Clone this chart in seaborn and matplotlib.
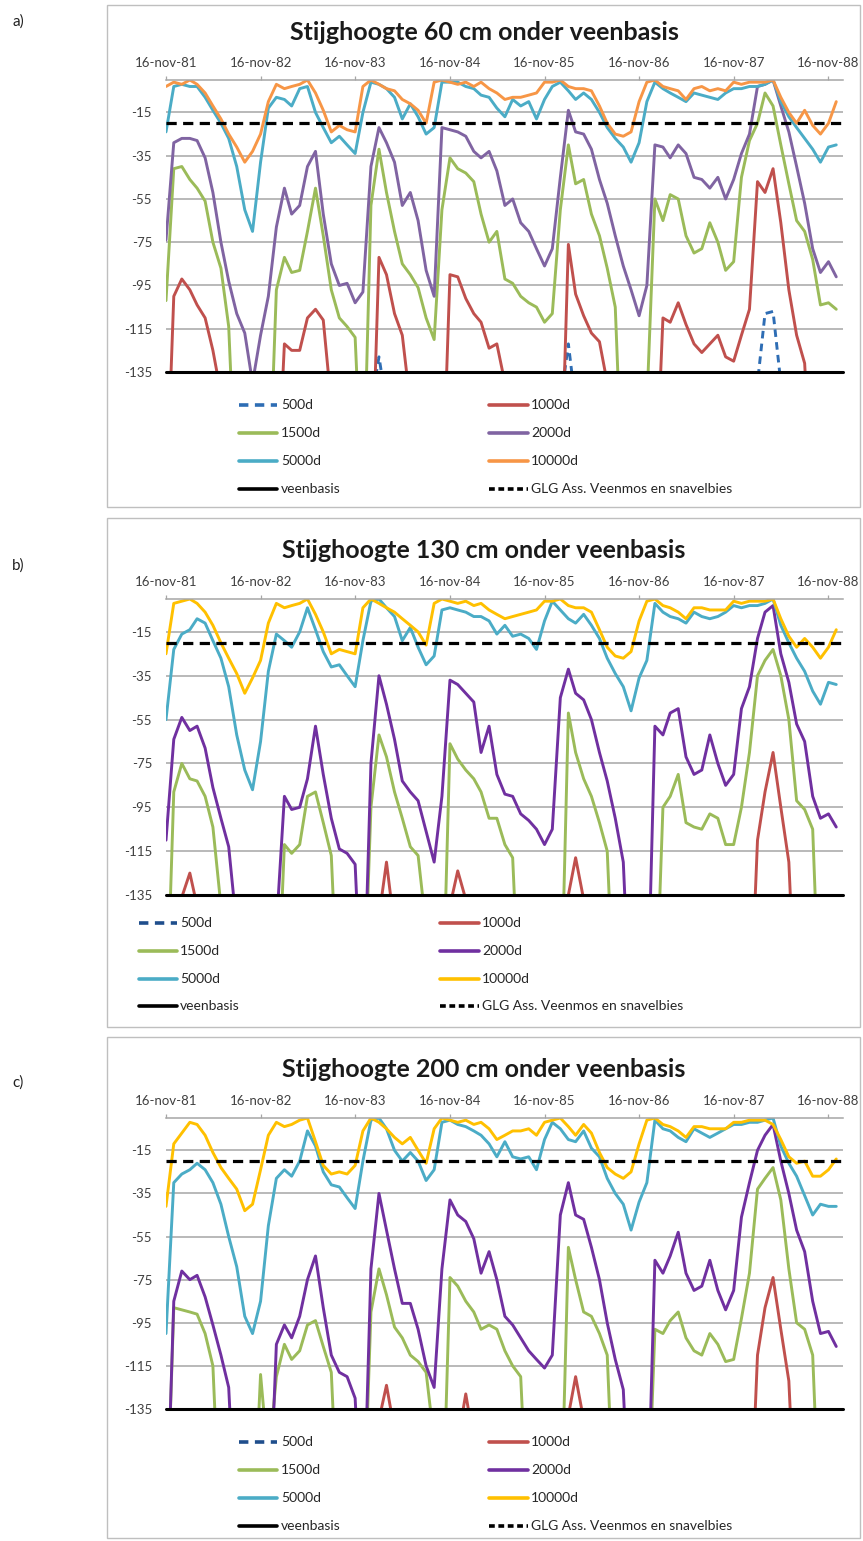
import matplotlib
matplotlib.use("Agg")
import matplotlib.pyplot as plt
import matplotlib.dates as mdates
from matplotlib.lines import Line2D
from matplotlib.patches import Rectangle
import pandas as pd
import seaborn as sns

sns.set_theme(style="white")
plt.rcParams["font.family"] = ["Lato", "DejaVu Sans"]

# ---------------------------------------------------------------- data
# monthly head readings (cm relative to surface), 16-nov-81 .. 16-dec-88
MONTHS = pd.date_range("1981-11-01", periods=86, freq="MS") + pd.Timedelta(days=15)

TICK_DATES = ["1981-11-16", "1982-11-16", "1983-11-16", "1984-11-16",
              "1985-11-16", "1986-11-16", "1987-11-16", "1988-11-16"]
TICK_LABELS = ["16-nov-81", "16-nov-82", "16-nov-83", "16-nov-84",
               "16-nov-85", "16-nov-86", "16-nov-87", "16-nov-88"]
Y_TICKS = [-135, -115, -95, -75, -55, -35, -15]
VEENBASIS = -135
GLG = -20

TITLES = ["Stijghoogte 60 cm onder veenbasis",
          "Stijghoogte 130 cm onder veenbasis",
          "Stijghoogte 200 cm onder veenbasis"]
PANEL_TAGS = ["a)", "b)", "c)"]

# --- a) 60 cm
A_500 = [-200, -200, -200, -200, -200, -200, -200, -200, -200, -200, -200, -200,
         -200, -200, -200, -200, -200, -200, -200, -200, -200, -200, -200, -200,
         -200, -200, -150, -128, -150, -200, -200, -200, -200, -200, -200, -200,
         -200, -200, -200, -200, -200, -200, -200, -200, -200, -200, -200, -200,
         -200, -200, -150, -122, -150, -200, -200, -200, -200, -200, -200, -200,
         -200, -200, -200, -200, -200, -200, -200, -200, -200, -200, -200, -200,
         -200, -200, -200, -140, -108, -107, -140, -200, -200, -200, -200, -200,
         -200, -200]
A_1000 = [-200, -100, -92, -97, -104, -110, -125, -145, -200, -200, -200, -200,
          -200, -200, -200, -122, -125, -125, -110, -106, -111, -150, -200, -200,
          -200, -200, -200, -82, -90, -108, -118, -150, -200, -200, -200, -200,
          -90, -91, -101, -108, -112, -124, -122, -140, -200, -200, -200, -200,
          -200, -200, -200, -76, -99, -109, -117, -121, -140, -200, -200, -200,
          -200, -200, -200, -110, -112, -103, -113, -122, -126, -122, -118, -128,
          -130, -118, -106, -47, -52, -41, -66, -97, -118, -131, -200, -200,
          -200, -200]
A_1500 = [-102, -41, -40, -46, -50, -56, -75, -87, -114, -200, -200, -200,
          -200, -200, -97, -82, -89, -88, -70, -50, -72, -97, -110, -114,
          -119, -200, -58, -32, -52, -70, -85, -90, -96, -110, -120, -60,
          -36, -41, -43, -47, -62, -75, -70, -92, -94, -100, -103, -105,
          -112, -108, -60, -30, -48, -46, -62, -72, -87, -105, -200, -200,
          -200, -150, -55, -65, -53, -55, -72, -80, -78, -66, -75, -88,
          -84, -45, -28, -20, -6, -12, -30, -48, -65, -70, -83, -104,
          -103, -106]
A_2000 = [-74, -29, -27, -27, -28, -36, -52, -75, -93, -108, -117, -140,
          -118, -100, -68, -50, -62, -58, -40, -33, -62, -85, -95, -94,
          -103, -98, -40, -22, -29, -38, -58, -52, -65, -88, -100, -22,
          -23, -24, -26, -33, -36, -33, -42, -58, -55, -66, -70, -78,
          -86, -78, -45, -14, -24, -25, -32, -46, -57, -72, -86, -97,
          -109, -95, -30, -31, -36, -30, -34, -45, -46, -50, -45, -55,
          -46, -34, -25, -3, -2, 0, -12, -24, -40, -57, -78, -89,
          -84, -91]
A_5000 = [-24, -3, -2, -3, -3, -8, -14, -20, -27, -40, -60, -70,
          -38, -13, -8, -9, -12, -4, -3, -15, -22, -29, -26, -30,
          -34, -15, -1, -2, -4, -8, -18, -11, -17, -25, -22, -1,
          -1, -1, -3, -4, -7, -8, -13, -17, -9, -12, -10, -18,
          -9, -3, -1, -5, -9, -6, -9, -15, -22, -27, -31, -38,
          -29, -10, -1, -4, -6, -8, -10, -6, -7, -8, -9, -6,
          -4, -4, -3, -3, -2, 0, -10, -17, -22, -27, -32, -38,
          -31, -30]
A_10000 = [-3, -1, -2, 0, -2, -6, -12, -18, -25, -31, -38, -33,
           -25, -10, -2, -4, -3, -2, 0, -6, -14, -24, -21, -23,
           -24, -3, 0, -2, -4, -5, -9, -11, -14, -20, -1, 0,
           -1, -2, -1, -3, -1, -4, -6, -9, -8, -8, -7, -6,
           -1, -1, 0, -3, -4, -4, -5, -12, -20, -25, -26, -24,
           -10, -1, 0, -3, -4, -5, -9, -4, -3, -5, -4, -5,
           -1, -2, -1, -1, -1, 0, -8, -15, -20, -14, -21, -25,
           -20, -10]

# --- b) 130 cm
B_1000 = [-200, -200, -136, -125, -140, -200, -200, -200, -200, -200, -200, -200,
          -200, -200, -200, -200, -200, -200, -200, -200, -200, -200, -200, -200,
          -200, -200, -200, -145, -120, -150, -200, -200, -200, -200, -200, -200,
          -140, -124, -137, -200, -200, -200, -200, -200, -200, -200, -200, -200,
          -200, -200, -200, -135, -118, -137, -200, -200, -200, -200, -200, -200,
          -200, -200, -200, -200, -200, -200, -200, -200, -200, -200, -200, -200,
          -200, -200, -200, -110, -88, -70, -95, -120, -200, -200, -200, -200,
          -200, -200]
B_1500 = [-200, -88, -75, -82, -83, -90, -104, -140, -200, -200, -200, -200,
          -200, -200, -200, -112, -116, -112, -90, -88, -102, -117, -200, -200,
          -200, -200, -95, -62, -72, -88, -100, -113, -117, -150, -200, -200,
          -66, -73, -78, -82, -88, -100, -100, -112, -118, -200, -200, -200,
          -200, -200, -200, -52, -70, -82, -90, -102, -115, -200, -200, -200,
          -200, -200, -200, -95, -90, -80, -102, -104, -105, -98, -100, -112,
          -112, -95, -70, -35, -28, -23, -35, -55, -92, -96, -105, -200,
          -200, -200]
B_2000 = [-110, -64, -54, -60, -58, -68, -86, -100, -113, -150, -200, -200,
          -200, -200, -150, -90, -96, -95, -82, -58, -80, -100, -114, -116,
          -121, -200, -75, -35, -48, -64, -83, -88, -92, -106, -120, -90,
          -37, -39, -43, -47, -70, -58, -80, -89, -90, -98, -101, -105,
          -112, -105, -45, -32, -43, -46, -55, -70, -83, -100, -120, -200,
          -200, -200, -58, -62, -52, -50, -72, -80, -78, -62, -75, -85,
          -80, -50, -40, -18, -6, -3, -25, -38, -57, -65, -90, -100,
          -98, -104]
B_5000 = [-55, -23, -16, -14, -9, -11, -19, -27, -40, -62, -78, -87,
          -65, -33, -16, -19, -22, -15, -4, -14, -24, -31, -30, -35,
          -40, -19, -1, 0, -4, -8, -19, -13, -22, -30, -26, -5,
          -4, -5, -6, -8, -8, -10, -16, -12, -17, -16, -18, -23,
          -10, -1, -5, -9, -11, -7, -12, -18, -27, -34, -40, -51,
          -36, -28, -2, -6, -8, -9, -11, -6, -8, -9, -8, -6,
          -3, -4, -3, -3, -2, 0, -12, -20, -27, -33, -42, -48,
          -38, -39]
B_10000 = [-25, -2, -1, 0, -2, -6, -12, -20, -27, -34, -43, -36,
           -28, -11, -2, -4, -3, -2, 0, -7, -15, -25, -23, -24,
           -25, -4, 0, -2, -4, -6, -9, -12, -15, -21, -2, 0,
           -1, -2, -1, -3, -2, -5, -7, -9, -8, -7, -6, -5,
           -1, -1, 0, -3, -4, -4, -6, -14, -22, -26, -27, -24,
           -10, -1, 0, -3, -4, -6, -9, -4, -4, -5, -5, -5,
           -1, -2, -1, -1, -1, 0, -9, -17, -22, -18, -22, -27,
           -22, -14]

# --- c) 200 cm
C_1000 = [-200, -200, -200, -200, -200, -200, -200, -200, -200, -200, -200, -200,
          -200, -200, -200, -200, -200, -200, -200, -200, -200, -200, -200, -200,
          -200, -200, -200, -140, -124, -145, -200, -200, -200, -200, -200, -200,
          -200, -150, -128, -150, -200, -200, -200, -200, -200, -200, -200, -200,
          -200, -200, -200, -138, -120, -140, -200, -200, -200, -200, -200, -200,
          -200, -200, -200, -200, -200, -200, -200, -200, -200, -200, -200, -200,
          -200, -200, -200, -110, -88, -74, -98, -122, -200, -200, -200, -200,
          -200, -200]
C_1500 = [-200, -88, -89, -90, -91, -100, -115, -200, -200, -200, -200, -200,
          -119, -160, -120, -105, -112, -108, -96, -94, -106, -118, -200, -200,
          -200, -200, -90, -70, -82, -97, -102, -110, -113, -118, -150, -200,
          -74, -78, -85, -90, -98, -96, -98, -108, -115, -120, -200, -200,
          -200, -200, -200, -60, -75, -90, -92, -100, -110, -200, -200, -200,
          -200, -200, -98, -100, -94, -90, -102, -108, -110, -100, -105, -113,
          -112, -93, -72, -33, -28, -23, -38, -70, -95, -98, -110, -200,
          -200, -200]
C_2000 = [-200, -85, -71, -75, -73, -83, -96, -110, -125, -200, -200, -200,
          -200, -200, -105, -96, -102, -92, -75, -64, -88, -110, -118, -120,
          -130, -200, -70, -35, -52, -70, -86, -86, -98, -115, -125, -70,
          -38, -45, -48, -56, -72, -62, -75, -92, -96, -102, -108, -112,
          -116, -110, -45, -30, -45, -47, -60, -75, -95, -112, -126, -200,
          -200, -200, -66, -72, -64, -53, -72, -80, -78, -66, -80, -89,
          -80, -46, -30, -15, -8, -3, -20, -35, -52, -62, -85, -100,
          -99, -106]
C_5000 = [-100, -30, -26, -24, -21, -24, -30, -40, -55, -69, -92, -100,
          -85, -50, -28, -24, -27, -20, -6, -13, -25, -31, -32, -37,
          -42, -20, -1, 0, -5, -15, -20, -16, -20, -29, -24, -2,
          -1, -3, -4, -6, -8, -12, -18, -11, -18, -19, -18, -24,
          -10, -2, -5, -10, -11, -6, -14, -18, -28, -35, -40, -52,
          -39, -30, -1, -5, -6, -9, -11, -5, -7, -9, -7, -5,
          -3, -3, -2, -2, -1, 0, -13, -21, -27, -36, -45, -40,
          -41, -41]
C_10000 = [-41, -12, -7, -2, -3, -8, -16, -23, -28, -33, -43, -40,
           -24, -8, -2, -4, -3, -1, 0, -11, -22, -26, -25, -26,
           -22, -6, 0, -2, -5, -9, -12, -9, -15, -21, -5, 0,
           -1, -2, -1, -3, -2, -5, -10, -8, -6, -6, -5, -8,
           -2, -1, 0, -4, -8, -3, -7, -16, -23, -26, -28, -25,
           -12, -1, 0, -3, -4, -6, -9, -4, -4, -5, -5, -5,
           -2, -2, -1, -1, -1, -3, -10, -18, -21, -20, -27, -27,
           -24, -19]

PANELS = [
    {"500d": A_500, "1000d": A_1000, "1500d": A_1500, "2000d": A_2000,
     "5000d": A_5000, "10000d": A_10000},
    {"1000d": B_1000, "1500d": B_1500, "2000d": B_2000,
     "5000d": B_5000, "10000d": B_10000},
    {"1000d": C_1000, "1500d": C_1500, "2000d": C_2000,
     "5000d": C_5000, "10000d": C_10000},
]
SERIES = ["500d", "1000d", "1500d", "2000d", "5000d", "10000d"]

PALETTE_A = {"500d": "#2E6DB4", "1000d": "#C0504D", "1500d": "#9BBB59",
             "2000d": "#8064A2", "5000d": "#4BACC6", "10000d": "#F79646"}
PALETTE_BC = {"500d": "#1F4E8C", "1000d": "#C0504D", "1500d": "#9BBB59",
              "2000d": "#7030A0", "5000d": "#4BACC6", "10000d": "#FFC000"}
PALETTES = [PALETTE_A, PALETTE_BC, PALETTE_BC]

# ---------------------------------------------------------------- layout (pixels)
W, H = 863, 1541
AX_LEFT, AX_RIGHT = 166, 843
AX_TB = [(80, 372), (599, 895), (1118, 1409)]
FRAMES = [(5, 507), (518, 1027), (1037, 1538)]
TITLE_Y = [40, 558, 1077]
TAG_Y = [22, 566, 1083]
LEGEND_ROWS = [(405, 433, 461, 489), (923, 951, 979, 1006), (1442, 1470, 1498, 1526)]
LEGEND_COLS = [((239, 277, 281), (489, 528, 531)),
               ((139, 177, 180), (440, 479, 482)),
               ((239, 277, 281), (489, 528, 531))]

GRID = "#A6A6A6"
TEXT = "#404040"
LINE_W = 2.1
DASH_500 = (0, (2.6, 1.8))
DASH_GLG = (0, (3.2, 2.0))


def fx(x):
    return x / W


def fy(y):
    return 1 - y / H


fig = plt.figure(figsize=(W / 100, H / 100), dpi=100)
x_min = mdates.date2num(pd.Timestamp("1981-11-16"))
x_max = mdates.date2num(pd.Timestamp("1989-01-11"))
tick_pos = mdates.date2num(pd.to_datetime(TICK_DATES))

for i, data in enumerate(PANELS):
    top, bottom = AX_TB[i]
    ax = fig.add_axes([fx(AX_LEFT), fy(bottom), (AX_RIGHT - AX_LEFT) / W, (bottom - top) / H])
    pal = PALETTES[i]
    for name in SERIES:
        if name not in data:
            continue
        ls = DASH_500 if name == "500d" else "-"
        sns.lineplot(x=mdates.date2num(MONTHS), y=data[name], ax=ax, color=pal[name],
                     linewidth=LINE_W, linestyle=ls, errorbar=None, legend=False)
    ax.axhline(VEENBASIS, color="black", lw=2.2, clip_on=False, zorder=6)
    ax.axhline(GLG, color="black", lw=2.3, linestyle=DASH_GLG, zorder=7)

    ax.set_xlim(x_min, x_max)
    ax.set_ylim(VEENBASIS, 0)
    ax.set_yticks(Y_TICKS)
    ax.set_yticklabels([str(v) for v in Y_TICKS])
    ax.set_xticks(tick_pos)
    ax.set_xticklabels(TICK_LABELS)
    ax.xaxis.tick_top()
    ax.tick_params(axis="x", top=True, bottom=False, length=3, width=0.9, color=GRID,
                   pad=5, labelsize=9.5, labelcolor=TEXT)
    ax.tick_params(axis="y", left=False, length=0, pad=10, labelsize=9.5, labelcolor=TEXT)
    ax.grid(axis="y", color=GRID, lw=1.1)
    ax.grid(axis="x", visible=False)
    for s in ["left", "right", "bottom"]:
        ax.spines[s].set_visible(False)
    ax.spines["top"].set_color(GRID)
    ax.spines["top"].set_linewidth(1.1)
    ax.set_xlabel("")
    ax.set_ylabel("")

    # frame, tag and title
    ft, fb = FRAMES[i]
    fig.add_artist(Rectangle((fx(107), fy(fb)), (860 - 107) / W, (fb - ft) / H,
                             transform=fig.transFigure, fill=False, ec="#BFBFBF", lw=1.0))
    fig.text(fx(18), fy(TAG_Y[i]), PANEL_TAGS[i], ha="center", va="center",
             fontsize=11, color="#202020")
    fig.text(fx(484), fy(TITLE_Y[i]), TITLES[i], ha="center", va="baseline",
             fontsize=18, fontweight="bold", color="#1A1A1A")

    # legend, two columns
    col1 = [("500d", pal["500d"], DASH_500), ("1500d", pal["1500d"], "-"),
            ("5000d", pal["5000d"], "-"), ("veenbasis", "black", "-")]
    col2 = [("1000d", pal["1000d"], "-"), ("2000d", pal["2000d"], "-"),
            ("10000d", pal["10000d"], "-"), ("GLG Ass. Veenmos en snavelbies", "black", (0, (1.6, 1.0)))]
    for (x0, x1, tx), entries in zip(LEGEND_COLS[i], (col1, col2)):
        for y, (lab, col, ls) in zip(LEGEND_ROWS[i], entries):
            fig.add_artist(Line2D([fx(x0), fx(x1)], [fy(y), fy(y)], transform=fig.transFigure,
                                  color=col, lw=2.6, linestyle=ls))
            fig.text(fx(tx), fy(y), lab, ha="left", va="center", fontsize=10, color="#262626")

fig.savefig("out.png", dpi=100)
